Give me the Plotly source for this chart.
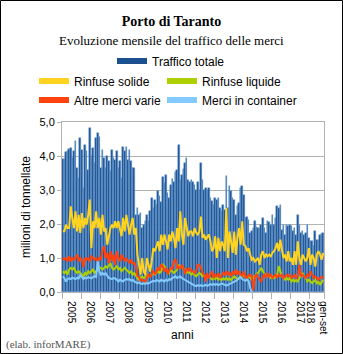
import plotly.graph_objects as go

# ---------------- data (milioni di tonnellate, gen 2005 - set 2018) ----------------
traffico_totale = [
    3.90, 3.92, 4.11, 4.14, 4.20, 4.24, 3.94, 4.16, 4.43, 3.65, 3.35, 4.53,
    4.18, 3.05, 4.33, 4.14, 3.60, 4.82, 3.99, 4.24, 3.80, 4.53, 4.67, 4.57,
    3.65, 4.18, 3.94, 3.65, 3.99, 3.84, 3.55, 4.18, 3.94, 3.89, 4.14, 3.65,
    3.84, 3.35, 4.27, 4.14, 4.27, 3.89, 4.18, 3.84, 3.65, 3.65, 2.27, 2.47,
    2.27, 2.31, 1.88, 1.98, 2.08, 2.27, 2.08, 2.37, 2.76, 2.47, 2.70, 2.57,
    2.96, 2.82, 2.66, 3.39, 3.20, 3.43, 2.92, 2.76, 3.14, 3.33, 3.24, 3.53,
    3.58, 4.33, 3.29, 3.43, 3.63, 3.78, 3.94, 3.29, 3.24, 3.30, 3.25, 3.16,
    3.01, 3.25, 3.01, 3.79, 3.30, 3.01, 3.06, 3.01, 3.06, 2.76, 2.67, 2.57,
    2.76, 2.72, 2.76, 2.47, 2.37, 2.57, 2.42, 3.40, 2.47, 3.11, 2.96, 2.76,
    2.72, 2.27, 2.52, 2.62, 3.06, 3.11, 2.86, 2.18, 2.22, 2.13, 1.74, 1.78,
    1.88, 2.08, 1.90, 1.88, 1.88, 1.98, 2.18, 1.88, 1.74, 2.08, 2.06, 1.98,
    2.27, 1.98, 2.18, 2.52, 2.47, 2.57, 1.83, 1.98, 1.69, 1.98, 1.93, 1.98,
    1.93, 1.78, 1.88, 1.69, 2.27, 1.98, 1.74, 1.78, 1.69, 1.74, 1.98, 1.59,
    1.49, 1.49, 1.35, 1.78, 1.54, 1.54, 1.69, 1.72, 1.75,
]
rinfuse_solide = [
    1.79, 1.79, 1.98, 1.88, 1.88, 2.52, 2.18, 1.88, 2.37, 1.78, 2.27, 1.74,
    2.32, 1.88, 2.18, 1.98, 2.27, 2.72, 1.29, 2.08, 1.88, 2.37, 1.88, 2.18,
    1.69, 2.27, 1.78, 1.88, 1.39, 1.69, 1.88, 1.98, 1.88, 2.08, 1.88, 2.08,
    1.88, 1.64, 2.18, 1.78, 2.27, 1.98, 1.69, 1.98, 2.18, 1.69, 1.88, 1.10,
    0.80, 0.51, 1.00, 0.60, 0.51, 1.00, 0.80, 0.60, 0.90, 1.29, 1.20, 1.39,
    1.49, 1.20, 1.69, 1.39, 1.69, 1.49, 1.25, 1.69, 1.49, 1.78, 1.59, 1.29,
    1.88, 1.49, 2.37, 1.69, 1.39, 2.18, 1.88, 1.64, 1.78, 1.78, 1.64, 1.88,
    1.74, 1.69, 1.78, 2.22, 1.59, 1.69, 1.54, 1.64, 1.69, 1.49, 1.20, 1.29,
    1.64, 1.00, 1.59, 1.20, 1.49, 1.39, 1.20, 2.47, 1.00, 1.78, 1.39, 1.15,
    1.78, 1.10, 1.59, 1.88, 1.39, 2.08, 1.39, 1.35, 1.20, 1.29, 1.10, 0.95,
    1.00, 0.90, 0.95, 1.00, 0.80, 1.10, 1.20, 1.00, 1.10, 1.05, 1.10, 1.05,
    1.15, 1.20, 1.29, 1.44, 1.20, 1.54, 1.25, 1.00, 1.10, 0.90, 1.20, 0.90,
    1.00, 0.80, 1.20, 0.80, 1.49, 1.00, 0.80, 1.10, 1.00, 0.90, 1.00, 1.29,
    0.80, 1.10, 1.00, 0.75, 1.10, 1.20, 1.10, 0.95, 1.15,
]
rinfuse_liquide = [
    0.61, 0.56, 0.61, 0.51, 0.66, 0.71, 0.66, 0.71, 0.61, 0.56, 0.61, 0.56,
    0.51, 0.46, 0.56, 0.51, 0.61, 0.56, 0.61, 0.66, 0.56, 0.61, 0.66, 0.71,
    0.71, 0.66, 0.71, 0.76, 0.71, 0.80, 0.85, 0.71, 0.66, 0.71, 0.76, 0.66,
    0.71, 0.61, 0.66, 0.71, 0.66, 0.61, 0.56, 0.61, 0.51, 0.56, 0.46, 0.41,
    0.36, 0.41, 0.46, 0.41, 0.46, 0.51, 0.46, 0.46, 0.51, 0.56, 0.51, 0.56,
    0.61, 0.56, 0.61, 0.80, 0.76, 0.66, 0.61, 0.56, 0.66, 0.61, 0.56, 0.61,
    0.66, 0.80, 0.71, 0.76, 0.66, 0.61, 0.56, 0.61, 0.56, 0.51, 0.56, 0.51,
    0.46, 0.51, 0.56, 0.52, 0.46, 0.50, 0.45, 0.49, 0.44, 0.40, 0.37, 0.42,
    0.38, 0.43, 0.36, 0.41, 0.35, 0.40, 0.37, 0.42, 0.36, 0.40, 0.35, 0.41,
    0.46, 0.42, 0.37, 0.41, 0.47, 0.43, 0.52, 0.46, 0.41, 0.47, 0.42, 0.37,
    0.41, 0.48, 0.53, 0.56, 0.66, 0.71, 0.61, 0.51, 0.46, 0.51, 0.46, 0.41,
    0.46, 0.41, 0.46, 0.51, 0.76, 0.61, 0.46, 0.41, 0.36, 0.41, 0.36, 0.41,
    0.31, 0.36, 0.31, 0.36, 0.31, 0.41, 0.51, 0.56, 0.46, 0.41, 0.31, 0.36,
    0.31, 0.26, 0.31, 0.36, 0.26, 0.31, 0.21, 0.31, 0.36,
]
altre_merci_varie = [
    1.00, 0.95, 1.00, 0.90, 1.05, 0.90, 1.00, 0.95, 1.00, 1.10, 0.90, 1.00,
    0.95, 0.73, 1.00, 0.95, 1.00, 0.90, 1.05, 1.00, 0.95, 1.00, 0.90, 1.00,
    0.95, 1.25, 1.35, 1.00, 1.15, 0.85, 1.20, 0.90, 1.10, 0.80, 1.20, 1.00,
    0.90, 1.10, 1.00, 0.90, 1.00, 0.92, 0.85, 0.95, 0.82, 0.88, 0.75, 0.47,
    0.43, 0.33, 0.36, 0.33, 0.28, 0.43, 0.53, 0.43, 0.53, 0.63, 0.53, 0.58,
    0.73, 0.63, 0.82, 0.75, 0.60, 0.71, 0.53, 0.63, 0.71, 0.68, 0.92, 0.96,
    0.71, 0.75, 0.68, 0.80, 0.71, 0.53, 0.68, 0.63, 0.71, 0.61, 0.61, 0.56,
    0.61, 0.80, 0.80, 0.71, 0.56, 0.51, 0.31, 0.56, 0.41, 0.51, 0.61, 0.41,
    0.51, 0.46, 0.56, 0.41, 0.51, 0.56, 0.51, 0.61, 0.51, 0.56, 0.46, 0.61,
    0.51, 0.66, 0.51, 0.61, 0.51, 0.46, 0.61, 0.46, 0.41, 0.51, 0.46, 0.51,
    0.05, 0.46, 0.51, 0.41, 0.36, 0.31, 0.46, 0.51, 0.41, 0.56, 0.46, 0.51,
    0.41, 0.46, 0.51, 0.41, 0.51, 0.46, 0.51, 0.41, 0.46, 0.51, 0.46, 0.51,
    0.41, 0.46, 0.51, 0.41, 0.46, 0.80, 0.46, 0.51, 0.46, 0.41, 0.51, 0.46,
    0.61, 0.51, 0.41, 0.46, 0.41, 0.36, 0.41, 0.45, 0.40,
]
merci_in_container = [
    0.46, 0.41, 0.31, 0.38, 0.40, 0.38, 0.42, 0.40, 0.38, 0.42, 0.40, 0.50,
    0.42, 0.38, 0.42, 0.40, 0.44, 0.42, 0.40, 0.44, 0.46, 0.44, 0.90, 0.61,
    0.51, 0.56, 0.51, 0.55, 0.46, 0.41, 0.40, 0.38, 0.41, 0.40, 0.36, 0.31,
    0.36, 0.33, 0.31, 0.36, 0.38, 0.36, 0.38, 0.33, 0.36, 0.31, 0.28, 0.26,
    0.28, 0.25, 0.23, 0.26, 0.24, 0.27, 0.25, 0.28, 0.31, 0.33, 0.31, 0.35,
    0.33, 0.31, 0.36, 0.33, 0.31, 0.36, 0.33, 0.38, 0.36, 0.41, 0.44, 0.46,
    0.41, 0.44, 0.46, 0.41, 0.38, 0.36, 0.33, 0.31, 0.28, 0.25, 0.21, 0.19,
    0.17, 0.20, 0.18, 0.20, 0.17, 0.19, 0.21, 0.18, 0.20, 0.23, 0.21, 0.24,
    0.21, 0.23, 0.20, 0.22, 0.25, 0.23, 0.21, 0.19, 0.21, 0.23, 0.25, 0.27,
    0.30, 0.33, 0.36, 0.41, 0.44, 0.38, 0.35, 0.33, 0.36, 0.33, 0.12, 0.00,
] + [None] * 45

anni_etichette = ["2005", "2006", "2007", "2008", "2009", "2010", "2011",
                  "2012", "2013", "2014", "2015", "2016", "2017", "gen-set<br>2018"]
mesi_per_anno = [12] * 13 + [9]

# ---------------- geometry helpers ----------------
W, H = 343, 354
ML, MR, MT, MB = 62, 19, 122, 62
PW, PH = W - ML - MR, H - MT - MB


def fx(px):
    return (px - ML) / PW


def fy(py):
    return (H - MB - py) / PH


x = list(range(len(traffico_totale)))
bounds, centers = [-0.5], []
for n in mesi_per_anno:
    centers.append(bounds[-1] + n / 2)
    bounds.append(bounds[-1] + n)

C_BAR = "#1b5190"
C_SOL = "#ffd320"
C_LIQ = "#aecf00"
C_ALT = "#ff420e"
C_CON = "#83caff"
GRID = "#b3b3b3"

fig = go.Figure()
fig.add_trace(go.Bar(x=x, y=traffico_totale, width=1, showlegend=False,
                     name="Traffico totale",
                     marker=dict(color=C_BAR, line=dict(color="#6d9fd4", width=0.5))))
for name, vals, col in [("Rinfuse solide", rinfuse_solide, C_SOL),
                        ("Rinfuse liquide", rinfuse_liquide, C_LIQ),
                        ("Altre merci varie", altre_merci_varie, C_ALT),
                        ("Merci in container", merci_in_container, C_CON)]:
    fig.add_trace(go.Scatter(x=x, y=vals, mode="lines", name=name, showlegend=False,
                             line=dict(color=col, width=2)))

# legend entries (thick swatches like the original)
for name, col, lg in [("Traffico totale", C_BAR, "legend"),
                      ("Rinfuse solide", C_SOL, "legend2"),
                      ("Altre merci varie", C_ALT, "legend2"),
                      ("Rinfuse liquide", C_LIQ, "legend3"),
                      ("Merci in container", C_CON, "legend3")]:
    fig.add_trace(go.Scatter(x=[None], y=[None], mode="lines", name=name, legend=lg,
                             line=dict(color=col, width=6)))

leg_font = dict(family="Liberation Sans", size=12, color="#000000")
common_leg = dict(font=leg_font, bgcolor="rgba(0,0,0,0)", xanchor="left",
                  yanchor="middle", orientation="v", itemclick=False,
                  itemdoubleclick=False)

fig.update_layout(
    width=W, height=H,
    margin=dict(l=ML, r=MR, t=MT, b=MB, pad=0),
    paper_bgcolor="white", plot_bgcolor="white",
    separators=",.",
    bargap=0,
    font=dict(family="Liberation Sans", size=11, color="#000000"),
    title=dict(text="<b>Porto di Taranto</b>", x=0.5, xref="container",
               xanchor="center", y=1 - 21 / H, yref="container", yanchor="middle",
               font=dict(family="Liberation Serif", size=14, color="#000000")),
    legend=dict(x=fx(112), y=fy(61), **common_leg),
    legend2=dict(x=fx(34), y=fy(90.5), **common_leg),
    legend3=dict(x=fx(162), y=fy(90.5), **common_leg),
    xaxis=dict(range=[-0.5, len(x) - 0.5], tickmode="array", tickvals=centers,
               ticktext=anni_etichette, tickangle=90, ticks="outside", ticklen=6,
               tickcolor="rgba(0,0,0,0)",
               minor=dict(tickmode="array", tickvals=bounds, ticks="outside",
                          ticklen=6, tickcolor=GRID, showgrid=False),
               showline=True, linecolor=GRID, mirror=True, showgrid=False,
               zeroline=False,
               tickfont=dict(family="Liberation Sans", size=10, color="#000000")),
    yaxis=dict(range=[0, 5], tick0=0, dtick=1, tickformat=".1f",
               showgrid=True, gridcolor=GRID, gridwidth=1,
               showline=True, linecolor=GRID, mirror=True, zeroline=False,
               ticks="outside", ticklen=4, tickcolor=GRID,
               tickfont=dict(family="Liberation Sans", size=11, color="#000000"),
               title=dict(text="milioni di tonnellate", standoff=6,
                          font=dict(family="Liberation Sans", size=12, color="#000000"))),
    annotations=[
        dict(text="Evoluzione mensile del traffico delle merci", xref="paper",
             yref="paper", x=fx(171), y=fy(41), xanchor="center", yanchor="middle",
             showarrow=False, font=dict(family="Liberation Serif", size=13, color="#000000")),
        dict(text="anni", xref="paper", yref="paper", x=fx(182), y=fy(335),
             xanchor="center", yanchor="middle", showarrow=False,
             font=dict(family="Liberation Sans", size=12, color="#000000")),
        dict(text="(elab. inforMARE)", xref="paper", yref="paper", x=fx(4),
             y=fy(344), xanchor="left", yanchor="middle", showarrow=False,
             font=dict(family="Liberation Serif", size=11, color="#555555")),
    ],
    shapes=[dict(type="rect", xref="paper", yref="paper", x0=fx(0.5), x1=fx(342.5),
                 y0=fy(353.5), y1=fy(0.5), line=dict(color="#000000", width=1),
                 fillcolor="rgba(0,0,0,0)", layer="above")],
)

fig.write_html("out.html")
